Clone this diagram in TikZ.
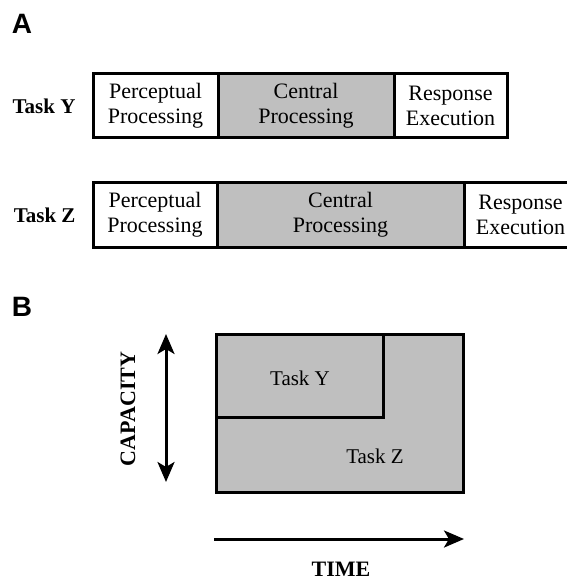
\documentclass[tikz,border=0pt]{standalone}
\usepackage{fontspec}
\setmainfont{Liberation Serif}
\newfontfamily\boxfont{Liberation Serif}
\newfontfamily\headfont{Liberation Sans}
\usetikzlibrary{arrows.meta, positioning}

\tikzset{
  stagebox/.style={draw, line width=3pt, outer sep=0pt, inner sep=0pt, minimum height=64pt, align=center, font=\boxfont\fontsize{22}{25}\selectfont},
  central/.style={stagebox, fill=black!25},
  tasklabel/.style={font=\boxfont\bfseries\fontsize{21}{24}\selectfont},
  panel/.style={font=\headfont\bfseries\fontsize{28}{30}\selectfont},
  axislabel/.style={font=\boxfont\bfseries\fontsize{22}{24}\selectfont},
  axis/.style={line width=3pt, -{Stealth[length=20pt, width=17pt, inset=5pt]}}
}

\begin{document}
\begin{tikzpicture}[x=1pt, y=-1pt]
  \useasboundingbox (0,0) rectangle (566,580);

  % Teil A: Ablauf der beiden Aufgaben
  \node[panel] (labA) at (22,24) {A};
  \node[stagebox, anchor=west, minimum width=125pt] (yperc) at (93,106) {Perceptual\\Processing};
  \node[central, right=0pt of yperc, minimum width=176pt] (ycent) {Central\\Processing};
  \node[stagebox, right=0pt of ycent, minimum width=113pt] (yresp) {Response\\Execution};
  \node[tasklabel, left=14pt of yperc] (ylab) {Task Y};

  \node[stagebox, anchor=west, minimum width=124pt, minimum height=65pt] (zperc) at (93,215) {Perceptual\\Processing};
  \node[central, right=0pt of zperc, minimum width=247pt, minimum height=65pt] (zcent) {Central\\Processing};
  \node[stagebox, right=0pt of zcent, minimum width=113pt, minimum height=65pt] (zresp) {Response\\Execution};
  \node[tasklabel, left=14pt of zperc] (zlab) {Task Z};

  % Teil B: Kapazitaet ueber der Zeit
  \node[panel] (labB) at (22,307) {B};
  \draw[line width=3pt, fill=black!25] (216,334) rectangle (463,492);
  \draw[line width=3pt] (216,417) -- (383,417) -- (383,334);
  \node[font=\boxfont\fontsize{21}{24}\selectfont] (ytask) at (300,378) {Task Y};
  \node[font=\boxfont\fontsize{21}{24}\selectfont] (ztask) at (375,456) {Task Z};

  \coordinate (captop) at (166,334);
  \coordinate (capbot) at (166,482);
  \draw[axis, {Stealth[length=20pt, width=17pt, inset=5pt]}-{Stealth[length=20pt, width=17pt, inset=5pt]}] (captop) -- (capbot);
  \node[axislabel, rotate=90] (cap) at (128,409) {CAPACITY};

  \coordinate (tstart) at (214,539);
  \coordinate (tend) at (464,539);
  \draw[axis] (tstart) -- (tend);
  \node[axislabel] (time) at (341,569) {TIME};
\end{tikzpicture}
\end{document}
